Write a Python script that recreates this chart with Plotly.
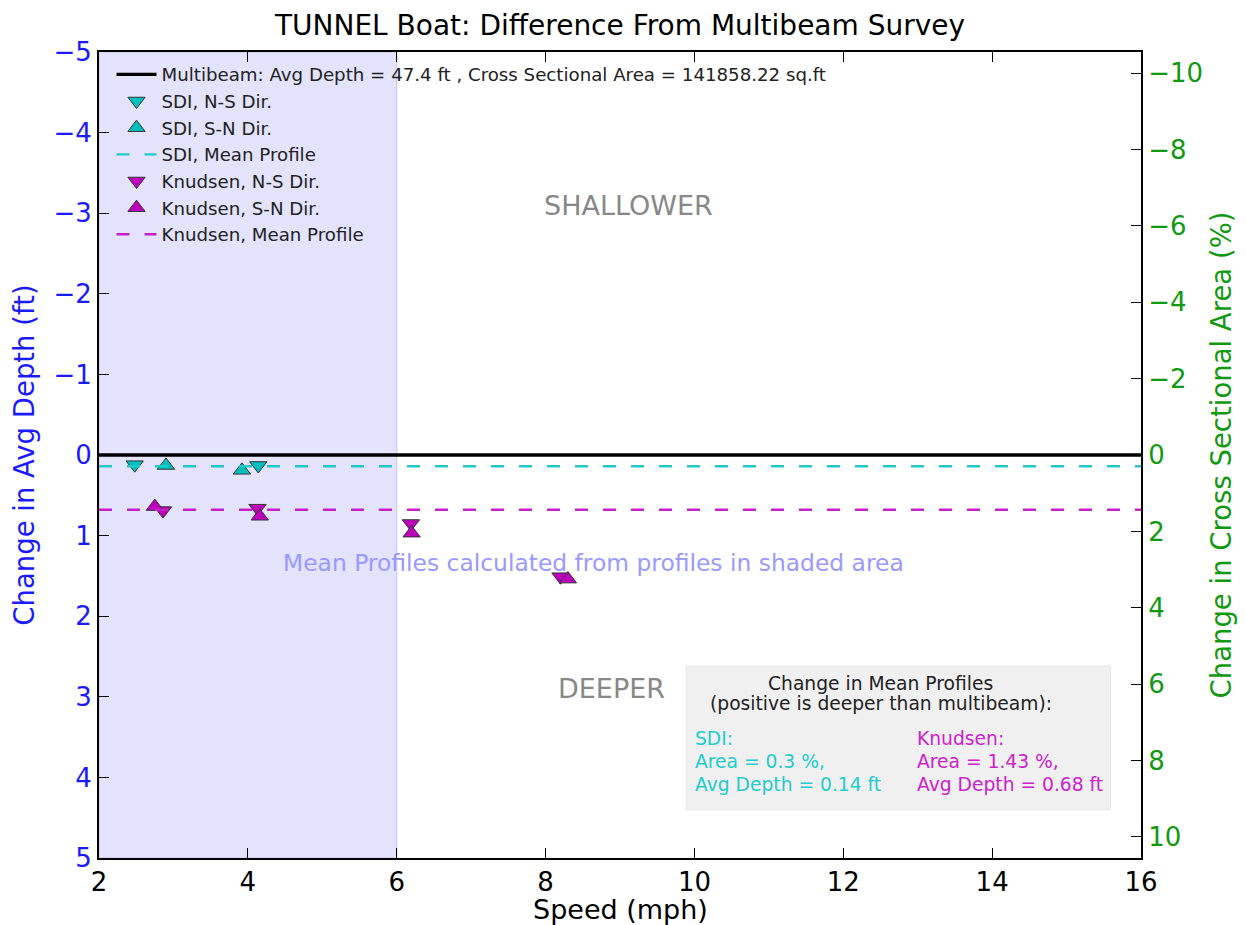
import plotly.graph_objects as go

# ---- data ----
sdi_ns_speed = [2.48, 4.14]
sdi_ns_depth = [0.12, 0.13]
sdi_sn_speed = [2.90, 3.92]
sdi_sn_depth = [0.13, 0.19]
knud_ns_speed = [2.86, 4.13, 6.19, 8.20]
knud_ns_depth = [0.69, 0.66, 0.85, 1.51]
knud_sn_speed = [2.75, 4.16, 6.20, 8.30]
knud_sn_depth = [0.64, 0.76, 0.97, 1.54]
sdi_mean_depth = 0.14
knud_mean_depth = 0.68
multibeam_depth = 0.0
x_range = [2, 16]
shade_range = [2, 6]
y_range = [5, -5]
y2_range = [10.55, -10.55]
x_ticks = [2, 4, 6, 8, 10, 12, 14, 16]
y_ticks = [-5, -4, -3, -2, -1, 0, 1, 2, 3, 4, 5]
y2_ticks = [-10, -8, -6, -4, -2, 0, 2, 4, 6, 8, 10]

CYAN = "#00BFBF"
MAG = "#BF00BF"
BLUE = "#1a1aff"
GREEN = "#119911"
FONT = "DejaVu Sans"

fig = go.Figure()

fig.add_trace(go.Scatter(x=x_range, y=[multibeam_depth, multibeam_depth], mode="lines",
                         line=dict(color="black", width=3.3),
                         name="Multibeam: Avg Depth = 47.4 ft , Cross Sectional Area = 141858.22 sq.ft"))
mk = dict(size=15, line=dict(color="#333333", width=1))
fig.add_trace(go.Scatter(x=sdi_ns_speed, y=sdi_ns_depth, mode="markers",
                         marker=dict(symbol="triangle-down", color=CYAN, **mk), name="SDI, N-S Dir."))
fig.add_trace(go.Scatter(x=sdi_sn_speed, y=sdi_sn_depth, mode="markers",
                         marker=dict(symbol="triangle-up", color=CYAN, **mk), name="SDI, S-N Dir."))
fig.add_trace(go.Scatter(x=x_range, y=[sdi_mean_depth, sdi_mean_depth], mode="lines",
                         line=dict(color="#20C8C8", width=2.4, dash="13px,15px"), name="SDI, Mean Profile"))
fig.add_trace(go.Scatter(x=knud_ns_speed, y=knud_ns_depth, mode="markers",
                         marker=dict(symbol="triangle-down", color=MAG, **mk), name="Knudsen, N-S Dir."))
fig.add_trace(go.Scatter(x=knud_sn_speed, y=knud_sn_depth, mode="markers",
                         marker=dict(symbol="triangle-up", color=MAG, **mk), name="Knudsen, S-N Dir."))
fig.add_trace(go.Scatter(x=x_range, y=[knud_mean_depth, knud_mean_depth], mode="lines",
                         line=dict(color="#C820C8", width=2.4, dash="13px,15px"), name="Knudsen, Mean Profile"))
# invisible trace to activate right axis
fig.add_trace(go.Scatter(x=[x_range[0]], y=[0], yaxis="y2", mode="markers",
                         marker=dict(opacity=0), showlegend=False, hoverinfo="skip"))

fig.add_shape(type="rect", xref="x", yref="paper", x0=shade_range[0], x1=shade_range[1], y0=0, y1=1,
              fillcolor="#E3E3FC", line=dict(color="#CFCFF5", width=1.5), layer="below")

# annotation box
fig.add_shape(type="rect", xref="x", yref="y", x0=9.89, x1=15.59, y0=2.62, y1=4.40,
              fillcolor="#F0F0F0", line=dict(color="#E6E6E6", width=1), layer="below")

ann = []
ann.append(dict(x=9.11, y=-3.1, text="SHALLOWER", font=dict(size=27, color="#888888")))
ann.append(dict(x=8.88, y=2.9, text="DEEPER", font=dict(size=27, color="#888888")))
ann.append(dict(x=8.64, y=1.34, text="Mean Profiles calculated from profiles in shaded area",
                font=dict(size=23.4, color="#9999FF")))
ann.append(dict(x=12.5, y=2.83, text="Change in Mean Profiles", font=dict(size=18.7, color="#222222")))
ann.append(dict(x=12.5, y=3.08, text="(positive is deeper than multibeam):", font=dict(size=18.7, color="#222222")))
for i, t in enumerate(["SDI:", "Area = 0.3 %,", "Avg Depth = 0.14 ft"]):
    ann.append(dict(x=9.98, y=3.52 + i * 0.285, text=t, xanchor="left", font=dict(size=18.7, color="#22CCCC")))
for i, t in enumerate(["Knudsen:", "Area = 1.43 %,", "Avg Depth = 0.68 ft"]):
    ann.append(dict(x=12.96, y=3.52 + i * 0.285, text=t, xanchor="left", font=dict(size=18.7, color="#CC22CC")))
for a in ann:
    a.update(xref="x", yref="y", showarrow=False)
    a.setdefault("xanchor", "center")
    a["yanchor"] = "middle"
    a["font"]["family"] = FONT
# x-axis title as annotation (below tick labels)
ann.append(dict(x=0.5, y=-51 / 806, xref="paper", yref="paper", text="Speed (mph)", showarrow=False,
                xanchor="center", yanchor="middle", font=dict(size=27, family=FONT, color="black")))
fig.update_layout(annotations=ann)

fig.update_layout(
    width=1230, height=917,
    margin=dict(l=91, r=97, t=44, b=67, autoexpand=False),
    paper_bgcolor="white", plot_bgcolor="white",
    font=dict(family=FONT, color="black"),
    title=dict(text="TUNNEL Boat: Difference From Multibeam Survey", x=0.5, xref="paper",
               y=1 - 17 / 917, yref="container", xanchor="center", yanchor="middle",
               font=dict(size=28, family=FONT, color="black")),
    showlegend=True,
    legend=dict(x=0.012, y=0.995, xanchor="left", yanchor="top", bgcolor="rgba(0,0,0,0)",
                font=dict(size=18.2, family=FONT, color="#222222"), tracegroupgap=0, itemwidth=40),
    xaxis=dict(range=x_range, tickvals=x_ticks, ticktext=[str(v) for v in x_ticks], automargin=False,
               ticks="inside", ticklen=10, tickcolor="black", mirror="ticks", showline=True,
               linecolor="black", linewidth=2, showgrid=False, zeroline=False,
               tickfont=dict(size=26, color="black")),
    yaxis=dict(range=y_range, tickvals=y_ticks, ticktext=[str(v).replace("-", "\u2212") for v in y_ticks],
               automargin=False,
               ticks="inside", ticklen=10, tickcolor="black", showline=True, linecolor="black",
               linewidth=2, showgrid=False, zeroline=False,
               tickfont=dict(size=26, color=BLUE),
               title=dict(text="Change in Avg Depth (ft)", font=dict(size=27.5, color=BLUE), standoff=14)),
    yaxis2=dict(range=y2_range, tickvals=y2_ticks, ticktext=[str(v).replace("-", "\u2212") for v in y2_ticks],
                automargin=False,
                overlaying="y", side="right", ticks="inside", ticklen=10, tickcolor="black",
                showline=True, linecolor="black", linewidth=2, showgrid=False, zeroline=False,
                tickfont=dict(size=26, color=GREEN),
                title=dict(text="Change in Cross Sectional Area (%)", font=dict(size=27.5, color=GREEN),
                           standoff=10)),
)

fig.write_html("out.html")
